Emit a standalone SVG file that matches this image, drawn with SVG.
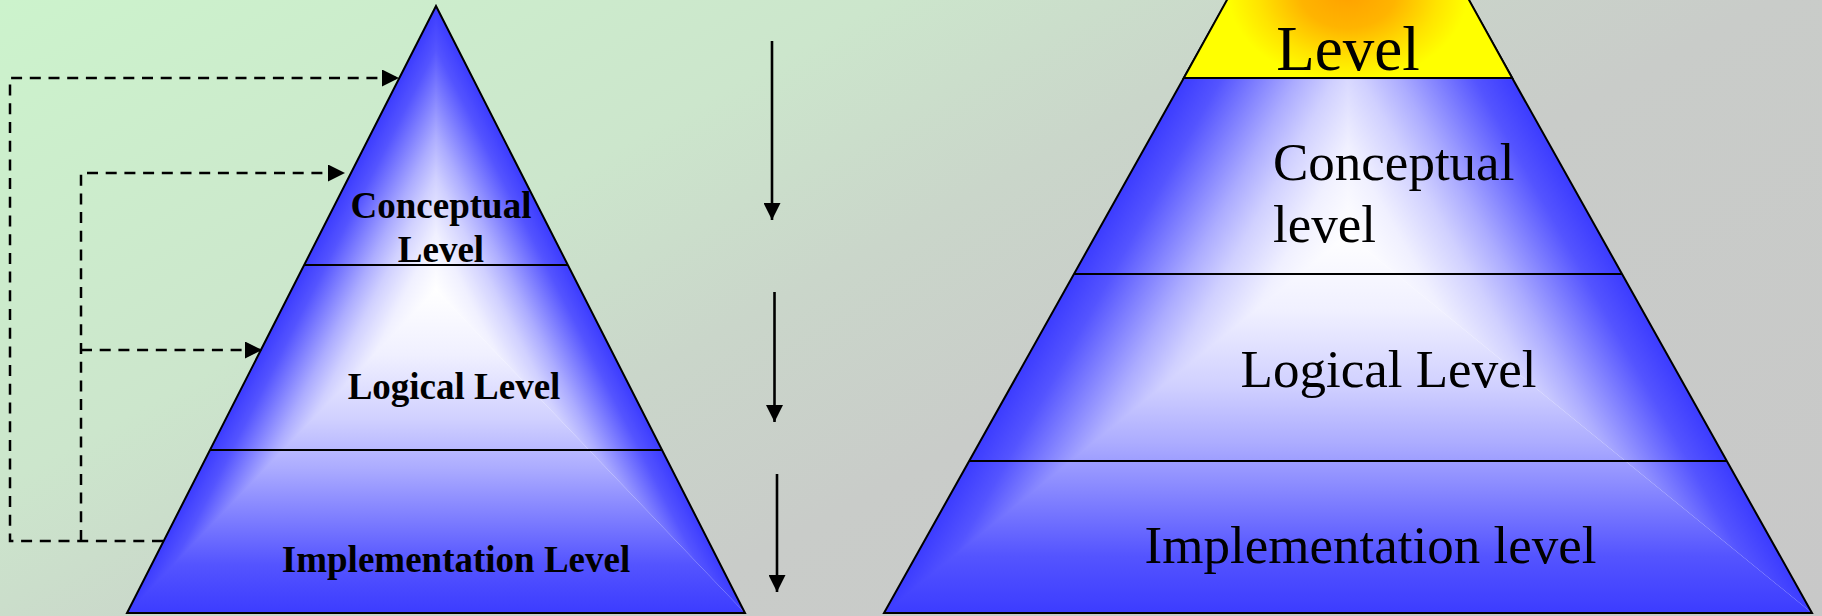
<svg xmlns="http://www.w3.org/2000/svg" width="1822" height="616" viewBox="0 0 1822 616">
<style>
.outline{fill:none;stroke:#000;stroke-width:2;stroke-linejoin:miter}
.sep{stroke:#000;stroke-width:2.2}
.dash{fill:none;stroke:#000;stroke-width:2.5;stroke-dasharray:11 7.7}
.arrow{fill:none;stroke:#000;stroke-width:2.6}
.lb{font-family:"Liberation Serif","Times New Roman",serif;font-weight:bold;font-size:37px;text-anchor:middle;fill:#000}
.rt{font-family:"Liberation Serif","Times New Roman",serif;font-size:53px;fill:#000}
.big{font-size:63px;text-anchor:middle}
.mid{text-anchor:middle}
</style>
<defs>
<linearGradient id="bg" gradientUnits="userSpaceOnUse" x1="0" y1="0" x2="679" y2="1242">
<stop offset="0" stop-color="#CCF3CC"/>
<stop offset="0.3" stop-color="#CCE6CC"/>
<stop offset="0.45" stop-color="#CAD6CA"/>
<stop offset="0.6" stop-color="#C9CCC9"/>
<stop offset="1" stop-color="#C8C8C8"/>
</linearGradient>
<linearGradient id="ramp">
<stop offset="0" stop-color="#3C3CFF"/>
<stop offset="0.15" stop-color="#5454FF"/>
<stop offset="0.3" stop-color="#8080FF"/>
<stop offset="0.45" stop-color="#ACACFF"/>
<stop offset="0.6" stop-color="#D0D0FF"/>
<stop offset="0.8" stop-color="#F0F0FF"/>
<stop offset="1" stop-color="#FFFFFF"/>
</linearGradient>
<linearGradient id="gLl" href="#ramp" gradientUnits="userSpaceOnUse" x1="321.2" y1="231.6" x2="436" y2="290"/>
<linearGradient id="gLr" href="#ramp" gradientUnits="userSpaceOnUse" x1="550.8" y1="231.6" x2="436" y2="290"/>
<linearGradient id="gLb" href="#ramp" gradientUnits="userSpaceOnUse" x1="436" y1="613" x2="436" y2="290"/>
<linearGradient id="gRl" href="#ramp" gradientUnits="userSpaceOnUse" x1="1156.1" y1="127.5" x2="1348" y2="235"/>
<linearGradient id="gRr" href="#ramp" gradientUnits="userSpaceOnUse" x1="1539.9" y1="127.5" x2="1348" y2="235"/>
<linearGradient id="gRb" href="#ramp" gradientUnits="userSpaceOnUse" x1="1348" y1="613" x2="1348" y2="235"/>
<radialGradient id="gold" gradientUnits="userSpaceOnUse" cx="1348" cy="-8" r="120" gradientTransform="translate(1348,-8) scale(1,0.75) translate(-1348,8)">
<stop offset="0" stop-color="#FFA000"/>
<stop offset="0.4" stop-color="#FFB400"/>
<stop offset="0.75" stop-color="#FFE400"/>
<stop offset="1" stop-color="#FFFF00"/>
</radialGradient>
<marker id="ah" markerUnits="userSpaceOnUse" markerWidth="18" markerHeight="17" refX="17" refY="8.5" orient="auto">
<path d="M0,0 L17,8.5 L0,17 z" fill="#000"/>
</marker>
</defs>

<rect id="background" x="0" y="0" width="1822" height="616" fill="url(#bg)"/>

<g id="left-pyramid">
<polygon points="436,6 127,613 745,613" fill="url(#gLl)"/>
<polygon points="436,6 745,613 436,290" fill="url(#gLr)"/>
<polygon points="127,613 745,613 436,290" fill="url(#gLb)"/>
<polygon class="outline" points="436,6 127,613 745,613"/>
</g>
<g id="left-conceptual">
<text class="lb" x="441" y="218">Conceptual</text>
<text class="lb" x="441" y="262">Level</text>
<line class="sep" x1="304.2" y1="265" x2="567.8" y2="265"/>
</g>
<g id="left-logical">
<text class="lb" x="454" y="399">Logical Level</text>
<line class="sep" x1="210" y1="450" x2="662" y2="450"/>
</g>
<g id="left-implementation">
<text class="lb" x="456" y="572">Implementation Level</text>
</g>

<g id="right-pyramid">
<polygon points="1348,-215 884,613 1812,613" fill="url(#gRl)"/>
<polygon points="1348,-215 1812,613 1348,235" fill="url(#gRr)"/>
<polygon points="884,613 1812,613 1348,235" fill="url(#gRb)"/>
<polygon class="outline" points="1348,-215 884,613 1812,613"/>
</g>
<g id="right-top">
<polygon points="1228.6,-3 1467.4,-3 1512.2,78 1183.8,78" fill="url(#gold)" stroke="#000" stroke-width="2"/>
<text class="rt big" x="1348" y="70">Level</text>
</g>
<g id="right-conceptual">
<text class="rt" x="1273" y="180">Conceptual</text>
<text class="rt" x="1273" y="242">level</text>
<line class="sep" x1="1074" y1="274" x2="1622" y2="274"/>
</g>
<g id="right-logical">
<text class="rt mid" x="1388.5" y="387">Logical Level</text>
<line class="sep" x1="969.2" y1="461" x2="1726.8" y2="461"/>
</g>
<g id="right-implementation">
<text class="rt mid" x="1370.5" y="563">Implementation level</text>
</g>

<g id="connectors">
<path class="dash" d="M163,541 H10 V78 H399" marker-end="url(#ah)"/>
<path class="dash" d="M81,541 V173 H345" marker-end="url(#ah)"/>
<path class="dash" d="M81,350 H262" marker-end="url(#ah)"/>
<line class="arrow" x1="772" y1="41" x2="772" y2="220" marker-end="url(#ah)"/>
<line class="arrow" x1="774.5" y1="292" x2="774.5" y2="422" marker-end="url(#ah)"/>
<line class="arrow" x1="777" y1="474" x2="777" y2="592" marker-end="url(#ah)"/>
</g>
</svg>
